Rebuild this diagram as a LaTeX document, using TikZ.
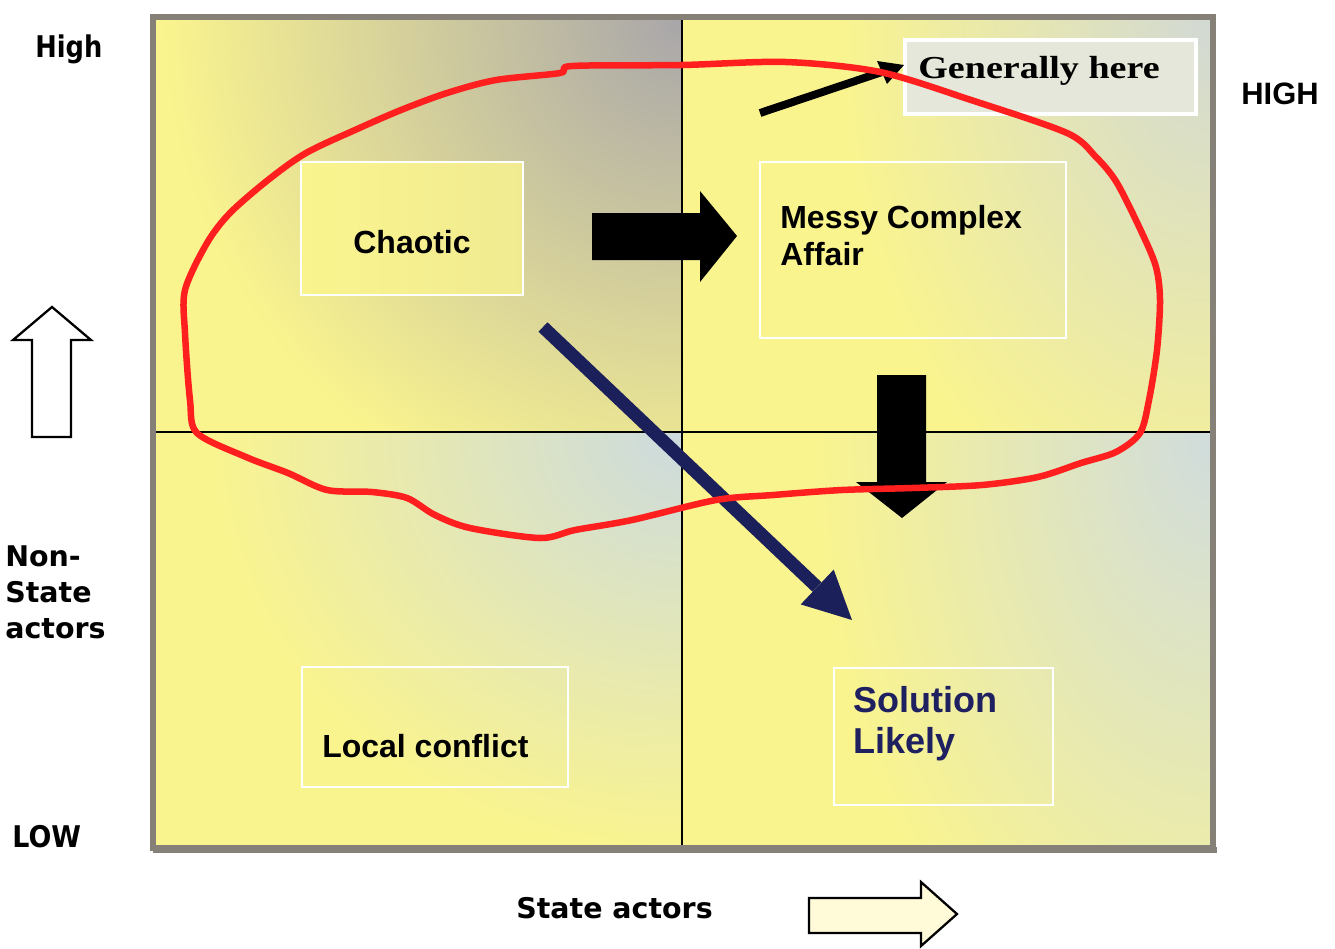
\documentclass[tikz,border=0pt]{standalone}
\usepackage{fontspec}
\usepackage{graphicx}
\newfontfamily\arialish{Liberation Sans}
\newfontfamily\verdish{DejaVu Sans}
\newfontfamily\timesish{Liberation Serif}

\definecolor{quadyellow}{HTML}{FAF48E}
\definecolor{tlgray}{HTML}{A9A6AA}
\definecolor{trgray}{HTML}{D2D9D4}
\definecolor{blgray}{HTML}{CCDADF}
\definecolor{brgray}{HTML}{D0DCDD}
\definecolor{framegray}{HTML}{858078}
\definecolor{loopred}{HTML}{FF1F1F}
\definecolor{navyarrow}{HTML}{1B1F5A}
\definecolor{solnavy}{HTML}{1E2060}
\definecolor{cream}{HTML}{FFFAD8}
\definecolor{notegray}{HTML}{E4E7D9}

\begin{document}
\begin{tikzpicture}[x=0.02cm, y=-0.02cm,
  quadline/.style={black, line width=1.1pt},
  quadbox/.style={draw=white, line width=1.1pt},
  boxfont/.style={font=\arialish\bfseries\fontsize{18.2}{22}\selectfont, anchor=base west, inner sep=0pt},
  solfont/.style={boxfont, font=\arialish\bfseries\fontsize{20.5}{24}\selectfont, text=solnavy},
  hifont/.style={boxfont, font=\arialish\bfseries\fontsize{17.6}{21}\selectfont},
  notefont/.style={font=\timesish\bfseries\fontsize{18.2}{22}\selectfont, anchor=base west, inner sep=0pt},
  sidefont/.style={font=\verdish\bfseries\fontsize{16.2}{20}\selectfont, anchor=base west, inner sep=0pt},
  endfont/.style={font=\verdish\bfseries\fontsize{17}{20}\selectfont, anchor=base west, inner sep=0pt},
  hollow/.style={draw=black, line width=1.3pt, line join=miter},
  blockarrow/.style={fill=black},
  loop/.style={draw=loopred, line width=3.7pt, line join=round, line cap=round}]

\useasboundingbox (0,0) rectangle (1335,948);
\fill[white] (0,0) rectangle (1335,948);

% quadrant backgrounds: yellow, fading to grey towards each top-right corner
\begin{scope}
  \clip (156,20) rectangle (682,432);
  \fill[quadyellow] (156,20) rectangle (682,432);
  \shade[inner color=tlgray, outer color=quadyellow] (682,20) circle (10.4cm);
\end{scope}
\begin{scope}
  \clip (682,20) rectangle (1210,432);
  \fill[quadyellow] (682,20) rectangle (1210,432);
  \shade[inner color=trgray, outer color=quadyellow] (1210,20) ellipse [x radius=7.5cm, y radius=11cm];
\end{scope}
\begin{scope}
  \clip (156,432) rectangle (682,845);
  \fill[quadyellow] (156,432) rectangle (682,845);
  \shade[inner color=blgray, outer color=quadyellow] (682,432) ellipse [x radius=9.5cm, y radius=8.5cm];
\end{scope}
\begin{scope}
  \clip (682,432) rectangle (1210,845);
  \fill[quadyellow] (682,432) rectangle (1210,845);
  \shade[inner color=brgray, outer color=quadyellow] (1210,432) ellipse [x radius=8cm, y radius=13cm];
\end{scope}

% frame and axes dividers
\draw[framegray, line width=3.4pt] (153,17) rectangle (1213,848);
\draw[framegray, line width=3pt] (153,850) -- (1217,850);
\draw[quadline] (682,20) -- (682,845);
\draw[quadline] (156,432) -- (1210,432);

% quadrant boxes
\shade[left color=quadyellow, right color=quadyellow!88!tlgray] (301,162) rectangle (523,295);
\draw[quadbox] (301,162) rectangle (523,295);
\draw[quadbox] (760,162) rectangle (1066,338);
\draw[quadbox] (302,667) rectangle (568,787);
\draw[quadbox] (834,668) rectangle (1053,805);
\draw[draw=white, line width=2.2pt, fill=notegray] (905,40) rectangle (1196,114);

% texts in the quadrants
\node[boxfont, anchor=base] (chaotic) at (412,253) {Chaotic};
\node[boxfont] (messyA) at (780,228) {Messy Complex};
\node[boxfont] (messyB) at (780,265) {Affair};
\node[boxfont] (local) at (322,757) {Local conflict};
\node[solfont] (solA) at (853,712) {Solution};
\node[solfont] (solB) at (853,753) {Likely};
\node[notefont] (general) at (918,78) {\scalebox{1.19}[1]{Generally here}};

% black block arrows
\fill[blockarrow] (592,213) -- (700,213) -- (700,191) -- (737,236) -- (700,282) -- (700,260) -- (592,260) -- cycle;
\fill[blockarrow] (877,375) -- (926,375) -- (926,482) -- (947,482) -- (902,518) -- (856,482) -- (877,482) -- cycle;

% small pointer towards the note
\coordinate (ptrstart) at (760,113);
\coordinate (ptrend) at (882,72);
\draw[black, line width=4.5pt] (ptrstart) -- (ptrend);
\fill[black] (877,61) -- (904,65) -- (887,84) -- cycle;

% navy diagonal arrow
\coordinate (navystart) at (543,327);
\coordinate (navybase) at (817,587);
\draw[navyarrow, line width=7.4pt] (navystart) -- (navybase);
\fill[navyarrow] (800.7,604.4) -- (852,620) -- (833.7,569.6) -- cycle;

% hand-drawn red loop
\draw[loop] plot[smooth cycle, tension=0.5] coordinates {
  (572,66) (682,65) (786,62) (880,72) (971,100) (1067,133) (1096,157)
  (1117,183) (1142,233) (1156,267) (1160,300) (1157,350) (1149,400)
  (1140,433) (1116,452) (1081,463) (1038,477) (982,485) (912,488)
  (842,490) (773,495) (716,500) (632,520) (575,530) (540,538) (470,528)
  (435,515) (407,498) (372,492) (327,490) (288,473) (246,457) (197,433)
  (190,400) (185,333) (185,290) (207,243) (230,213) (268,180) (306,153)
  (355,130) (401,110) (447,93) (496,80) (560,73)};

% outer axis labels
\node[endfont] (highleft) at (35,57) {\scalebox{0.86}[1]{High}};
\node[hifont] (highright) at (1241,104) {HIGH};
\node[endfont] (lowleft) at (12,847) {\scalebox{0.9}[1]{LOW}};
\node[sidefont] (nsA) at (5,566) {Non-};
\node[sidefont] (nsB) at (5,602) {State};
\node[sidefont] (nsC) at (5,638) {actors};
\node[sidefont] (stateact) at (516,918) {State actors};

% hollow axis arrows
\draw[hollow, fill=white] (32,437) -- (32,340) -- (13,340) -- (52,307) -- (91,340) -- (71,340) -- (71,437) -- cycle;
\draw[hollow, fill=cream] (809,898) -- (921,898) -- (921,882) -- (957,914) -- (921,946) -- (921,933) -- (809,933) -- cycle;

\end{tikzpicture}
\end{document}
